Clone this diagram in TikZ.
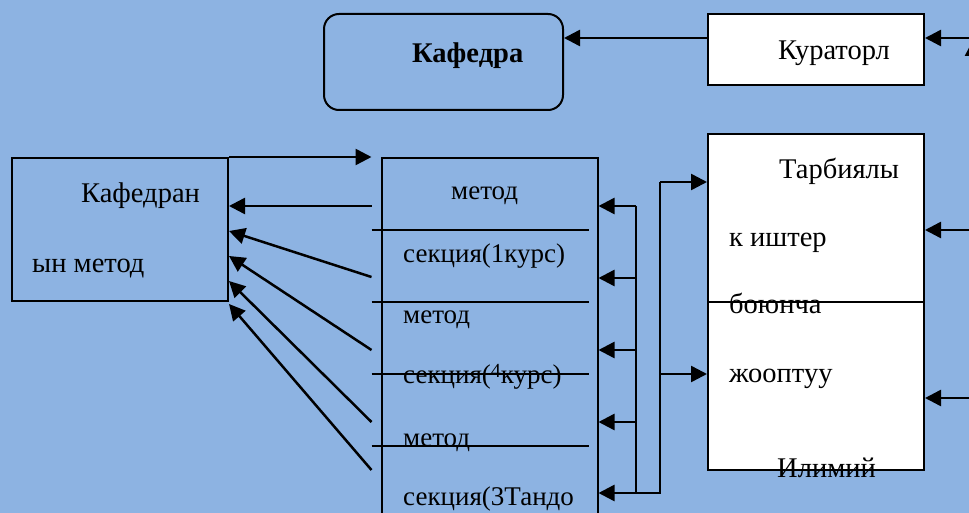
\documentclass[tikz,border=0pt]{standalone}
\usepackage{fontspec}
\setmainfont{Liberation Serif}
\usetikzlibrary{positioning, arrows.meta, calc}

\definecolor{bgblue}{RGB}{141,179,226}

\tikzset{
  box/.style={draw, line width=2pt, inner sep=0pt},
  arr/.style={line width=2.5pt, -{Triangle[length=16pt,width=16pt]}},
  thin line/.style={line width=2pt},
  txt/.style={anchor=base west, inner sep=0pt, font=\fontsize{28.5}{32}\selectfont},
  stxt/.style={txt, font=\fontsize{27}{32}\selectfont},
}

\begin{document}
\begin{tikzpicture}[x=1pt, y=-1pt]
    \clip (0,0) rectangle (969,513);
    \fill[bgblue] (0,0) rectangle (969,513);

    % boxes
    \node[box, rounded corners=15pt, minimum width=239pt, minimum height=96pt] (kaf) at (443.5,62) {};
    \node[box, fill=white, minimum width=216pt, minimum height=71pt] (kur) at (816,49.5) {};
    \node[box, minimum width=216pt, minimum height=143pt] (kmet) at (120,229.5) {};
    \node[box, minimum width=216pt, minimum height=380pt] (sek) at (489.5,348) {};
    \node[box, fill=white, minimum width=216pt, minimum height=336pt] (tarb) at (816,302) {};

    % texts
    \node[txt] (kaft) at (412,63) {\bfseries Кафедра};
    \node[txt] (kurt) at (778,60) {Кураторл};
    \node[txt] (km1) at (81,203) {Кафедран};
    \node[txt] (km2) at (32,272) {ын метод};
    \node[stxt] (s1) at (451,200) {метод};
    \node[stxt] (s2) at (403,262) {секция(1курс)};
    \node[stxt] (s3) at (403,323) {метод};
    \node[stxt] (s4) at (403,383) {секция(\raisebox{6pt}{\fontsize{20}{20}\selectfont 4}курс)};
    \node[stxt] (s5) at (403,446) {метод};
    \node[stxt] (s6) at (403,505) {секция(3Тандо};
    \node[txt] (t1) at (779,179) {Тарбиялы};
    \node[txt] (t2) at (729,247) {к иштер};
    \node[txt] (t3) at (729,313) {боюнча};
    \node[txt] (t4) at (729,382) {жооптуу};
    \node[txt] (t5) at (777,477) {Илимий};

    % separators
    \foreach \y in {230,302,374,446}
        \draw[thin line] ($(sek.west |- 0,\y)+(-9,0)$) -- ($(sek.east |- 0,\y)+(-10,0)$);
    \draw[thin line] (tarb.west) -- (tarb.east);

    % top row
    \coordinate (k1) at ([yshift=11.5pt]kur.west);
    \draw[arr] (k1) -- (k1 -| kaf.east);
    \coordinate (re1) at (969,38);
    \draw[arr] (re1) -- (re1 -| kur.east);
    \draw[arr] (973,70) -- (973,40);

    % left side
    \draw[arr] (kmet.north east) -- ([xshift=-9pt]sek.north west |- kmet.north);
    \foreach \ys/\ye in {206/206, 277/231, 350/256, 422/281, 470/304}
        \draw[arr] ($(sek.west |- 0,\ys)+(-9,0)$) -- (kmet.east |- 0,\ye);

    % right side
    \coordinate (bus) at (636,206);
    \coordinate (bend) at (636,493);
    \coordinate (up) at (660,493);
    \draw[thin line, line width=2.5pt] (bus) -- (bend) -- (up) -- (660,182);
    \foreach \y in {206,278,350,422,493}
        \draw[arr] (636,\y) -- (sek.east |- 0,\y);
    \draw[arr] (660,182) -- (tarb.west |- 0,182);
    \draw[arr] (660,374) -- (tarb.west |- 0,374);
    \coordinate (re2) at (969,230);
    \coordinate (re3) at (969,398);
    \draw[arr] (re2) -- (re2 -| tarb.east);
    \draw[arr] (re3) -- (re3 -| tarb.east);
\end{tikzpicture}
\end{document}
